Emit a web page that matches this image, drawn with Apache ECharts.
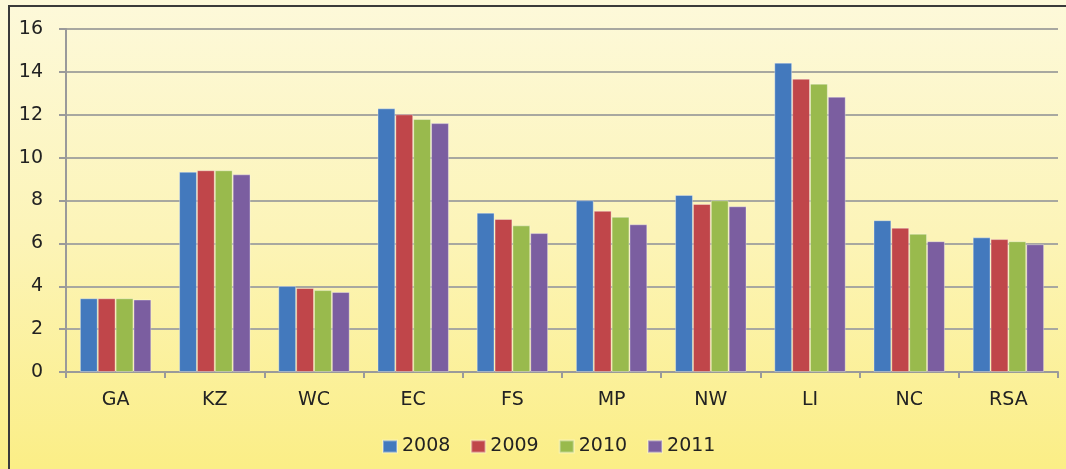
<!DOCTYPE html>
<html><head><meta charset="utf-8">
<script src="https://cdn.jsdelivr.net/npm/echarts@6/dist/echarts.min.js"></script>
<style>
html,body{margin:0;padding:0;width:1066px;height:469px;overflow:hidden;background:#fff;}
#top{position:absolute;left:0;top:0;width:1066px;height:6px;background:linear-gradient(to right,#ffffff,#e2eff0 40%,#e2eff0);}
#frame{position:absolute;left:8px;top:5px;width:1058px;height:464px;border-left:2px solid #3a3a3a;border-top:2px solid #3a3a3a;box-sizing:border-box;}
#chart{position:absolute;left:0;top:0;width:1066px;height:469px;}
</style>
</head><body>
<div id="top"></div>
<div id="chart"></div>
<div id="frame"></div>
<script>
const categories = ['GA','KZ','WC','EC','FS','MP','NW','LI','NC','RSA'];
const seriesNames = ['2008','2009','2010','2011'];
const v2008 = [3.44, 9.34, 4.01, 12.30, 7.43, 8.01, 8.26, 14.43, 7.08, 6.28];
const v2009 = [3.44, 9.41, 3.92, 12.02, 7.14, 7.52, 7.84, 13.68, 6.73, 6.20];
const v2010 = [3.44, 9.41, 3.82, 11.80, 6.84, 7.24, 8.01, 13.45, 6.45, 6.10];
const v2011 = [3.38, 9.22, 3.73, 11.61, 6.48, 6.89, 7.73, 12.84, 6.10, 5.96];
const colors = ['#4379bd','#c0464a','#99ba4d','#7b5ea0'];

const chart = echarts.init(document.getElementById('chart'), null, {renderer:'canvas'});
const values = [v2008, v2009, v2010, v2011];
const font = '"DejaVu Sans", sans-serif';
chart.setOption({
  animation:false,
  backgroundColor: new echarts.graphic.LinearGradient(0,0,0,1,[
    {offset:0,color:'#fdf9da'},{offset:0.5,color:'#fcf4b8'},{offset:1,color:'#fbee86'}]),
  color: colors,
  grid:{left:66,right:8,top:29,bottom:97,containLabel:false},
  legend:{
    data: seriesNames, left:377, top:432, itemWidth:14, itemHeight:12, itemGap:20,
    icon:'rect',
    textStyle:{fontFamily:font,fontSize:19,color:'#222'}
  },
  xAxis:{
    type:'category', data:categories,
    axisLine:{lineStyle:{color:'#9a9a9a',width:2}},
    axisTick:{show:true,length:6,lineStyle:{color:'#9a9a9a',width:2}},
    axisLabel:{fontFamily:font,fontSize:19,color:'#222',margin:19}
  },
  yAxis:{
    type:'value', min:0, max:16, interval:2,
    axisLine:{show:true,lineStyle:{color:'#9a9a9a',width:2}},
    axisTick:{show:true,length:7,lineStyle:{color:'#9a9a9a',width:2}},
    axisLabel:{fontFamily:font,fontSize:19,color:'#222',margin:23},
    splitLine:{lineStyle:{color:'#a8a8a0',width:2}}
  },
  series: seriesNames.map((n,i)=>({
    name:n, type:'bar', data:values[i],
    barGap:'0%', barCategoryGap:'28%',
    itemStyle:{color:colors[i], borderColor:'rgba(255,255,255,0.35)', borderWidth:1}
  }))
});
</script>
</body></html>
